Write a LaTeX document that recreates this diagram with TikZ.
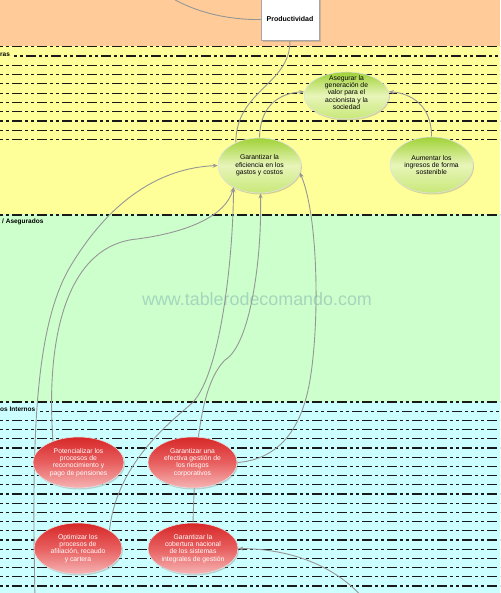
\documentclass[tikz,border=0pt]{standalone}
\usepackage{fontspec}
\setmainfont{Liberation Sans}
\usetikzlibrary{shapes.geometric,arrows.meta,shadows}
\pgfdeclarelayer{bg}
\pgfdeclarelayer{links}
\pgfsetlayers{bg,links,main}
\definecolor{bandorange}{RGB}{255,204,153}
\definecolor{bandyellow}{RGB}{255,255,153}
\definecolor{bandgreen}{RGB}{204,255,204}
\definecolor{bandcyan}{RGB}{204,255,255}
\definecolor{linkgray}{RGB}{150,150,150}
\definecolor{wmark}{RGB}{165,214,188}
\definecolor{gtop}{RGB}{160,210,55}
\definecolor{gmid}{RGB}{232,245,185}
\definecolor{gbot}{RGB}{200,232,120}
\definecolor{rtop}{RGB}{215,40,40}
\definecolor{rmid}{RGB}{232,95,95}
\definecolor{rbot}{RGB}{246,180,180}
\definecolor{rim}{RGB}{225,225,225}
\tikzset{
  dl/.style={line width=1.2pt, color=black!90, dash pattern=on 3pt off 3pt on 3pt off 3pt on 10pt off 3pt},
  lane/.style={font=\bfseries\fontsize{6.5}{7}\selectfont, anchor=west, inner sep=0pt},
  goal/.style={ellipse, draw=rim, line width=0.6pt, inner sep=0pt, drop shadow={opacity=0.35,shadow xshift=1pt,shadow yshift=-1.5pt}},
  greengoal/.style={goal, top color=gtop, bottom color=gbot, middle color=gmid},
  redgoal/.style={goal, top color=rtop, bottom color=rbot, middle color=rmid},
  gtext/.style={align=center, font=\fontsize{6.8}{7.3}\selectfont, inner sep=0pt},
  rtext/.style={gtext, text=white},
  link/.style={draw=linkgray, line width=0.9pt},
  linkarrow/.style={link, -{Stealth[length=5pt,width=4pt]}},
}
\begin{document}
\begin{tikzpicture}[x=1pt,y=-1pt]
\useasboundingbox (0,0) rectangle (500,593);
\clip (0,0) rectangle (500,593);

% nodes
\node[draw=gray!70, fill=white, minimum width=58pt, minimum height=42pt, inner sep=0pt,
      drop shadow={opacity=0.35,shadow xshift=1.5pt,shadow yshift=-1.5pt},
      font=\bfseries\fontsize{7}{8}\selectfont] (prod) at (290,19.5) {Productividad};

\node[greengoal, minimum width=85pt, minimum height=47pt] (aseg) at (346.5,95.5) {};
\node[gtext] (aseg-t) at (346.5,92.5) {Asegurar la\\generación de\\valor para el\\accionista y la\\sociedad};
\node[greengoal, minimum width=83pt, minimum height=55pt] (efic) at (259.5,165.5) {};
\node[gtext] (efic-t) at (efic) {Garantizar la\\eficiencia en los\\gastos y costos};
\node[greengoal, minimum width=83pt, minimum height=56pt] (aument) at (431.5,165) {};
\node[gtext] (aument-t) at (aument) {Aumentar los\\ingresos de forma\\sostenible};

\node[redgoal, minimum width=91pt, minimum height=51pt] (poten) at (78.5,462.5) {};
\node[rtext] (poten-t) at (poten) {Potencializar los\\procesos de\\reconocimiento y\\pago de pensiones};
\node[redgoal, minimum width=89pt, minimum height=51pt] (riesg) at (192.5,462.5) {};
\node[rtext] (riesg-t) at (riesg) {Garantizar una\\efectiva gestión de\\los riesgos\\corporativos};
\node[redgoal, minimum width=88pt, minimum height=51pt] (optim) at (78,548.5) {};
\node[rtext] (optim-t) at (optim) {Optimizar los\\procesos de\\afiliación, recaudo\\y cartera};
\node[redgoal, minimum width=90pt, minimum height=51pt] (cobert) at (193,548.5) {};
\node[rtext] (cobert-t) at (cobert) {Garantizar la\\cobertura nacional\\de los sistemas\\integrales de gestión};

\coordinate (ctop) at (170,-3);
\coordinate (cleft) at (35,600);
\coordinate (cright) at (365,600);

% background bands
\begin{pgfonlayer}{bg}
\fill[bandorange] (0,0) rectangle (500,46.5);
\fill[bandyellow] (0,46.5) rectangle (500,214.5);
\fill[bandgreen] (0,214.5) rectangle (500,402);
\fill[bandcyan] (0,402) rectangle (500,593);
\foreach \k in {0,2,3,...,10} \draw[dl] (0,{46.7+9.3*\k}) -- (500,{46.7+9.3*\k});
\draw[dl] (14,56) -- (500,56);
\node[lane] (lblfin) at (0,54.5) {ras};
\draw[dl] (0,215) -- (500,215);
\node[lane] (lblcli) at (2,221.5) {/ Asegurados};
\foreach \k in {0,2,3,...,20} \draw[dl] (0,{402+9.2*\k}) -- (500,{402+9.2*\k});
\draw[dl] (40,411.2) -- (500,411.2);
\node[lane] (lblproc) at (0,409.5) {os Internos};
\node[text=wmark, font=\fontsize{17.9}{20}\selectfont, inner sep=0pt] (wm) at (257,299) {www.tablerodecomando.com};
\end{pgfonlayer}

% connectors
\begin{pgfonlayer}{links}
\draw[link] (ctop) .. controls (200,15) and (235,20) .. (prod.west);
\draw[link] (prod.south) .. controls (290,85) and (236,90) .. (efic.136);
\draw[linkarrow] (efic.north) .. controls (260,105) and (280,93) .. (aseg.175);
\draw[linkarrow] (aument.north) .. controls (432,105) and (410,93) .. (aseg.5);
\draw[linkarrow] (cleft) .. controls (32,450) and (33,330) .. (70,267) .. controls (110,200) and (160,168) .. (efic.west);
\draw[linkarrow] (poten.140) .. controls (45,330) and (70,245) .. (137,239) .. controls (190,232) and (226,215) .. (efic.-140);
\draw[linkarrow] (optim.30) .. controls (116,470) and (160,430) .. (190,405) .. controls (220,380) and (233,260) .. (efic.-140);
\draw[linkarrow] (cobert.north) .. controls (195,450) and (200,385) .. (225,360) .. controls (250,345) and (262,260) .. (efic.-88);
\draw[linkarrow] (riesg.east) .. controls (270,460) and (300,440) .. (310,380) .. controls (320,320) and (318,215) .. (efic.-10);
\draw[linkarrow] (cright) .. controls (335,565) and (290,549) .. (cobert.east);
\end{pgfonlayer}
\end{tikzpicture}
\end{document}
